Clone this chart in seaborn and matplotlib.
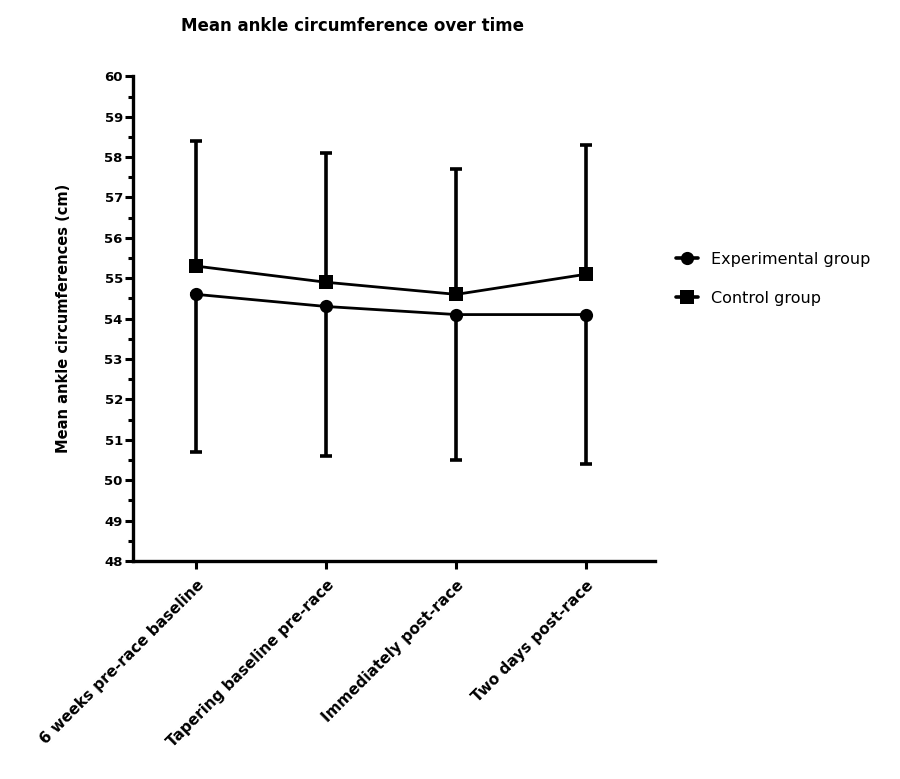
import matplotlib
matplotlib.use("Agg")
import matplotlib.pyplot as plt
import seaborn as sns
import pandas as pd
import numpy as np
from matplotlib.ticker import MultipleLocator
from matplotlib.lines import Line2D

categories = ["6 weeks pre-race baseline", "Tapering baseline pre-race",
              "Immediately post-race", "Two days post-race"]
experimental_mean = [54.6, 54.3, 54.1, 54.1]
experimental_lower = [50.7, 50.6, 50.5, 50.4]
control_mean = [55.3, 54.9, 54.6, 55.1]
control_upper = [58.4, 58.1, 57.7, 58.3]
groups = ["Experimental group", "Control group"]

sns.set_theme(style="ticks")
plt.rcParams['font.family'] = ['DejaVu Sans']
plt.rcParams['text.color'] = 'black'
plt.rcParams['axes.labelcolor'] = 'black'
plt.rcParams['xtick.color'] = 'black'
plt.rcParams['ytick.color'] = 'black'

df = pd.DataFrame({
    "pos": list(range(4)) * 2,
    "value": experimental_mean + control_mean,
    "group": [groups[0]] * 4 + [groups[1]] * 4,
})

fig = plt.figure(figsize=(9, 7.79), dpi=100)
ax = fig.add_axes([0.148, 0.280, 0.580, 0.622])

pos = np.arange(4)
exp_err = np.array(experimental_mean) - np.array(experimental_lower)
ctl_err = np.array(control_upper) - np.array(control_mean)
ax.errorbar(pos, experimental_mean, yerr=[exp_err, np.zeros(4)], fmt='none',
            ecolor='black', elinewidth=2.6, capsize=4.6, capthick=2.6, zorder=2)
ax.errorbar(pos, control_mean, yerr=[np.zeros(4), ctl_err], fmt='none',
            ecolor='black', elinewidth=2.6, capsize=4.6, capthick=2.6, zorder=2)

sns.lineplot(data=df, x="pos", y="value", hue="group", style="group",
             markers={groups[0]: 'o', groups[1]: 's'}, dashes=False,
             palette={groups[0]: 'black', groups[1]: 'black'},
             linewidth=2.0, markersize=9.5, markeredgewidth=0,
             ax=ax, legend=False, zorder=3)

ax.set_xlim(-0.485, 3.53)
ax.set_ylim(48, 60)
ax.yaxis.set_major_locator(MultipleLocator(1))
ax.yaxis.set_minor_locator(MultipleLocator(0.5))
ax.set_xticks(pos)
ax.set_xticklabels(categories, rotation=45, ha='right', rotation_mode='anchor',
                   fontsize=11, fontweight='bold')
for lab in ax.get_yticklabels():
    lab.set_fontweight('bold')
ax.tick_params(axis='y', which='major', length=6, width=2.2, labelsize=9.5, pad=1.5)
ax.tick_params(axis='y', which='minor', length=3.5, width=2.2)
ax.tick_params(axis='x', which='major', length=6, width=2.2, pad=6)
for s in ['top', 'right']:
    ax.spines[s].set_visible(False)
for s in ['left', 'bottom']:
    ax.spines[s].set_linewidth(2.4)
    ax.spines[s].set_color('black')
ax.set_xlabel("")
ax.set_ylabel("Mean ankle circumferences (cm)", fontsize=10.5, fontweight='bold',
              labelpad=24)

fig.text(0.392, 0.966, "Mean ankle circumference over time", ha='center',
         va='center', fontsize=12, fontweight='bold')

handles = [Line2D([], [], color='black', marker='o', markersize=9.5, lw=2.6,
                  markeredgewidth=0),
           Line2D([], [], color='black', marker='s', markersize=9.5, lw=2.6,
                  markeredgewidth=0)]
fig.legend(handles, groups, loc='upper left', bbox_to_anchor=(0.735, 0.695),
           frameon=False, fontsize=11.5, handlelength=1.4, handletextpad=0.8,
           labelspacing=1.5)

fig.savefig("out.png", dpi=100)
